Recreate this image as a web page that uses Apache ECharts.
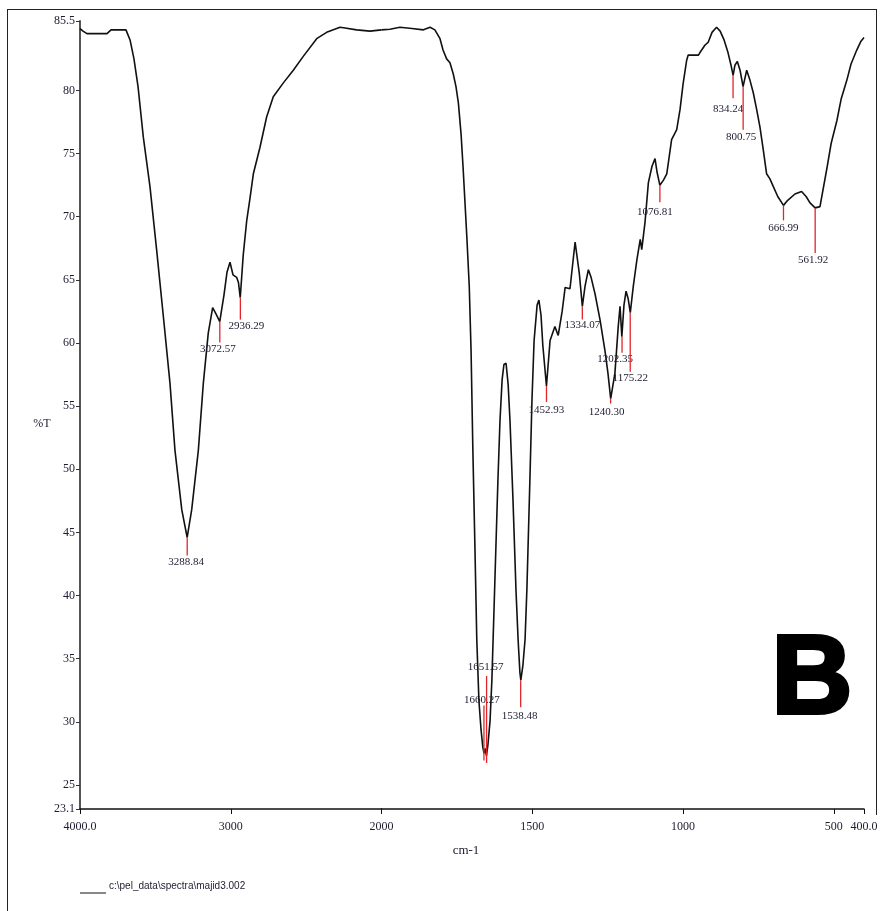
<!DOCTYPE html>
<html>
<head>
<meta charset="utf-8">
<script src="https://cdn.jsdelivr.net/npm/echarts@6/dist/echarts.min.js"></script>
<style>
html,body{margin:0;padding:0;background:#fff;}
#chart{width:882px;height:911px;}
</style>
</head>
<body>
<div id="chart"></div>
<script>
// Wavenumber (cm-1) and transmittance (%T)
const wn = [4000,3980,3954,3867,3821,3794,3735,3695,3668,3642,3615,3580,3536,3491,3447,3403,3370,3325,3289,3259,3215,3182,3149,3120,3098,3073,3045,3025,3005,2985,2961,2949,2937,2917,2894,2872,2850,2806,2762,2718,2651,2585,2519,2430,2364,2275,2242,2165,2076,2000,
1972,1939,1899,1861,1839,1823,1806,1796,1784,1773,1762,1753,1745,1736,1729,1717,1709,1703,1697,1690,1684,1677,1670,1664,1660,1656,1652,1647,1640,1634,1624,1614,1607,1600,1594,1587,1580,1574,1564,1554,1547,1541,1538,1531,1524,1518,1508,1501,1494,1484,1478,1471,1465,1453,1441,1425,1414,1401,1391,1375,1358,1344,1334,1325,1314,1305,1292,1275,1259,1249,1240,1226,1215,1209,1203,1196,1189,1182,1175,1165,1153,1142,1137,1126,1115,1103,1093,1086,1077,1065,1054,1038,1021,1010,1000,988,983,949,944,927,917,904,889,877,864,851,841,834,828,820,811,801,789,778,767,756,745,734,723,712,701,686,667,653,629,607,592,579,562,546,524,509,490,476,457,443,424,410,400];
const tr = [84.9,84.7,84.5,84.5,84.5,84.8,84.8,84.8,84.0,82.5,80.3,76.3,72.4,67.3,62.1,56.8,51.5,46.8,44.6,46.8,51.5,56.8,60.8,62.8,62.3,61.7,63.8,65.6,66.4,65.4,65.2,64.8,63.6,67.0,69.7,71.5,73.4,75.5,77.9,79.5,80.6,81.6,82.7,84.1,84.6,85.0,84.95,84.8,84.7,84.8,
84.85,85.0,84.9,84.8,85.0,84.8,84.1,83.2,82.5,82.2,81.3,80.3,79.0,76.5,73.7,68.4,64.5,59.4,51.5,43.6,36.5,31.7,29.4,28.0,27.5,27.9,27.3,28.2,30.1,33.3,41.2,49.1,53.9,57.1,58.3,58.4,56.7,53.9,47.6,40.4,36.5,33.9,33.3,34.5,36.5,40.4,49.1,55.5,60.2,63.0,63.4,62.2,59.8,56.6,60.2,61.3,60.6,62.5,64.4,64.3,68.0,65.5,62.9,64.5,65.8,65.2,63.9,61.8,59.4,57.6,55.6,57.6,61.3,62.9,60.5,63.0,64.1,63.5,62.4,64.5,66.6,68.2,67.4,69.6,72.7,74.0,74.6,73.5,72.5,72.9,73.4,76.1,76.9,78.5,80.5,82.4,82.8,82.8,83.0,83.6,83.8,84.6,85.0,84.7,84.0,83.0,82.0,81.2,82.0,82.3,81.6,80.3,81.6,80.8,79.8,78.5,77.1,75.3,73.4,73.0,72.4,71.6,70.9,71.3,71.8,72.0,71.6,71.1,70.7,70.8,73.7,75.8,77.6,79.3,80.8,82.1,83.2,83.9,84.2];

// Labelled peaks
const peakWn = [3288.84,3072.57,2936.29,1660.27,1651.57,1538.48,1452.93,1334.07,1240.30,1202.35,1175.22,1076.81,834.24,800.75,666.99,561.92];
const peakT  = [44.6,61.7,63.6,27.5,27.3,33.3,56.6,62.9,55.6,60.5,62.4,72.5,81.2,80.3,70.9,70.7];

// Axis ticks
const yTicks = [23.1,25,30,35,40,45,50,55,60,65,70,75,80,85.5];
const xTicksHigh = [4000,3000];
const xTicksLow = [2000,1500,1000,500,400];

// Label placement (pixel offsets: dx, dy, line start, line end)
const peakStyle = [[-1,25,0,18],[-2,28,0,21],[6,29,0,22],[-2,-53,-48,7],[-1,-89,-80,7],[-1,36,0,27],[0,24,0,16],[0,19,0,13],[-4,14,0,5],[-7,22,0,16],[0,65,0,59],[-5,27,0,17],[-5,34,0,23],[-2,50,0,43],[0,23,0,15],[-2,52,0,45]];

const seriesName = 'c:\\pel_data\\spectra\\majid3.002';
const hi = [], lo = [];
wn.forEach((w,i)=>{ if (w>=2000) hi.push([w,tr[i]]); if (w<=2000) lo.push([w,tr[i]]); });
const pkHi = [], pkLo = [];
peakWn.forEach((w,i)=>{ (w>=2000?pkHi:pkLo).push([w,peakT[i],i]); });

const serif = '"Liberation Serif", "DejaVu Serif", serif';
function fmtX(v){ return (v===4000||v===400) ? v.toFixed(1) : String(v); }
function fmtY(v){ return String(v); }

function renderPeak(params, api){
  const w = api.value(0), T = api.value(1), idx = api.value(2);
  const p = api.coord([w,T]);
  const s = peakStyle[idx];
  return {
    type:'group',
    children:[
      {type:'line', shape:{x1:p[0],y1:p[1]+s[2],x2:p[0],y2:p[1]+s[3]}, style:{stroke:'#e0262b',lineWidth:1.3}},
      {type:'text', x:p[0]+s[0], y:p[1]+s[1], style:{text:peakWn[idx].toFixed(2), font:'11px '+serif, fill:'#1c1c30', align:'center', verticalAlign:'middle'}}
    ]
  };
}

const xAxisCommon = {
  type:'value', inverse:true, splitLine:{show:false},
  axisLine:{show:true,lineStyle:{color:'#111',width:1.5}},
  axisTick:{show:true,length:5,lineStyle:{color:'#111',width:1}},
  axisLabel:{formatter:fmtX, color:'#1c1c30', fontFamily:serif, fontSize:12, margin:12}
};

const chart = echarts.init(document.getElementById('chart'));
chart.setOption({
  animation:false,
  backgroundColor:'#fff',
  grid:[
    {left:80, top:21, width:301.5, height:788},
    {left:381.5, top:21, width:482.5, height:788}
  ],
  xAxis:[
    Object.assign({}, xAxisCommon, {gridIndex:0, min:2000, max:4000,
      axisTick:Object.assign({}, xAxisCommon.axisTick, {customValues:xTicksHigh}),
      axisLabel:Object.assign({}, xAxisCommon.axisLabel, {customValues:xTicksHigh})}),
    Object.assign({}, xAxisCommon, {gridIndex:1, min:400, max:2000,
      axisTick:Object.assign({}, xAxisCommon.axisTick, {customValues:xTicksLow}),
      axisLabel:Object.assign({}, xAxisCommon.axisLabel, {customValues:xTicksLow})})
  ],
  yAxis:[
    {type:'value', gridIndex:0, min:23.1, max:85.5, splitLine:{show:false},
     axisLine:{show:true,lineStyle:{color:'#555',width:2}},
     axisTick:{show:true,length:4,customValues:yTicks,lineStyle:{color:'#333'}},
     axisLabel:{customValues:yTicks, formatter:fmtY, color:'#1c1c30', fontFamily:serif, fontSize:12, margin:5}},
    {type:'value', gridIndex:1, min:23.1, max:85.5, show:false, splitLine:{show:false}}
  ],
  series:[
    {name:seriesName, type:'line', xAxisIndex:0, yAxisIndex:0, data:hi, showSymbol:false, symbol:'none',
     lineStyle:{color:'#111',width:1.6}, clip:false},
    {name:seriesName, type:'line', xAxisIndex:1, yAxisIndex:1, data:lo, showSymbol:false, symbol:'none',
     lineStyle:{color:'#111',width:1.6}, clip:false},
    {type:'custom', xAxisIndex:0, yAxisIndex:0, data:pkHi, renderItem:renderPeak, clip:false, z:5},
    {type:'custom', xAxisIndex:1, yAxisIndex:1, data:pkLo, renderItem:renderPeak, clip:false, z:5}
  ],
  graphic:[
    {type:'line', shape:{x1:7,y1:9.5,x2:877,y2:9.5}, style:{stroke:'#222',lineWidth:1}},
    {type:'line', shape:{x1:7.5,y1:9,x2:7.5,y2:911}, style:{stroke:'#222',lineWidth:1}},
    {type:'line', shape:{x1:876.5,y1:9,x2:876.5,y2:815}, style:{stroke:'#222',lineWidth:1}},
    {type:'text', x:42, y:424, style:{text:'%T', font:'12px '+serif, fill:'#1c1c30', align:'center', verticalAlign:'middle'}},
    {type:'text', x:466, y:851, style:{text:'cm-1', font:'13px '+serif, fill:'#1c1c30', align:'center', verticalAlign:'middle'}},
    {type:'line', shape:{x1:80,y1:893,x2:106,y2:893}, style:{stroke:'#111',lineWidth:1}},
    {type:'text', x:109, y:886, style:{text:seriesName, font:'10px "Liberation Sans", Arial, sans-serif', fill:'#1c1c30', align:'left', verticalAlign:'middle'}},
    {type:'text', x:812, y:682, style:{text:'B', font:'bold 112px "Liberation Sans", Arial, sans-serif', fill:'#000', stroke:'#000', lineWidth:4, align:'center', verticalAlign:'middle'}}
  ]
});
</script>
</body>
</html>
